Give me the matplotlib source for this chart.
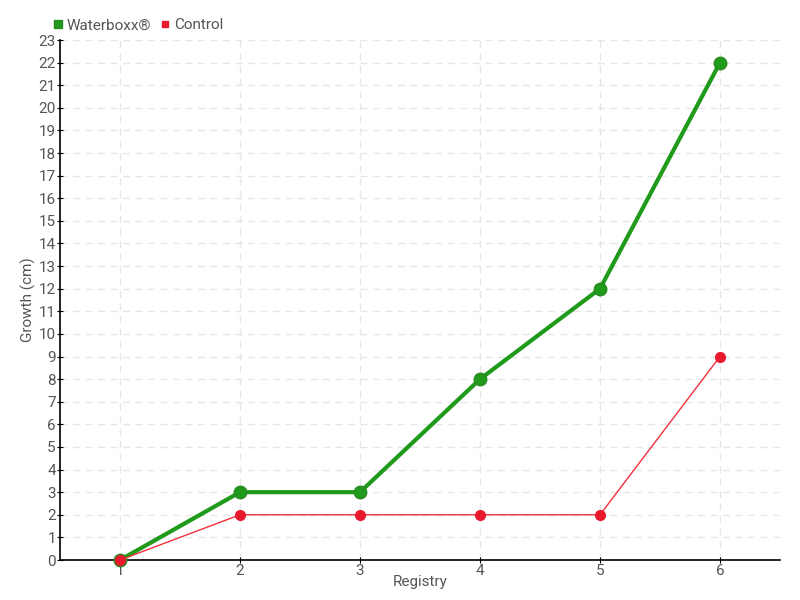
import matplotlib.pyplot as plt
from matplotlib.ticker import MultipleLocator

# Data
registry = [1, 2, 3, 4, 5, 6]
waterboxx = [0, 3, 3, 8, 12, 22]
control = [0, 2, 2, 2, 2, 9]

plt.rcParams['font.family'] = ['Roboto', 'DejaVu Sans']

fig = plt.figure(figsize=(8, 6), dpi=100)
ax = fig.add_axes([60 / 800, 40 / 600, 720 / 800, 520 / 600])

ax.plot(registry, waterboxx, color="#1f9a1a", linewidth=3, marker="o",
        markersize=9, markeredgecolor="#2a8a22", label="Waterboxx®",
        zorder=3, clip_on=False)
ax.plot(registry, control, color="#f0303c", linewidth=1, marker="o",
        markersize=7, markerfacecolor="#e8192c", markeredgecolor="#e8192c",
        label="Control", zorder=4, clip_on=False)

ax.set_xlim(0.5, 6.5)
ax.set_ylim(0, 23)
ax.xaxis.set_major_locator(MultipleLocator(1))
ax.yaxis.set_major_locator(MultipleLocator(1))
ax.grid(True, color="#e6e6e6", linestyle=(0, (5, 4)), linewidth=1)
ax.set_axisbelow(True)

for s in ["top", "right"]:
    ax.spines[s].set_visible(False)
for s in ["left", "bottom"]:
    ax.spines[s].set_linewidth(1.2)

ax.tick_params(axis="both", labelsize=11, labelcolor="#555555", color="black",
               length=4, direction="inout", pad=1)

ax.set_xlabel("Registry", fontsize=11, color="#555555", labelpad=-2)
ax.set_ylabel("Growth (cm)", fontsize=11, color="#555555", labelpad=2)

ax.legend(loc="lower left", bbox_to_anchor=(-0.02, 1.0), ncol=2, frameon=False,
          fontsize=11, handlelength=0.6, handletextpad=0.3, columnspacing=0.6,
          borderaxespad=0.1, markerscale=0.6)
leg = ax.get_legend()
for h in leg.legend_handles:
    h.set_linestyle("none")
    h.set_marker("s")
for t in leg.get_texts():
    t.set_color("#555555")

fig.savefig("out.png", dpi=100)
